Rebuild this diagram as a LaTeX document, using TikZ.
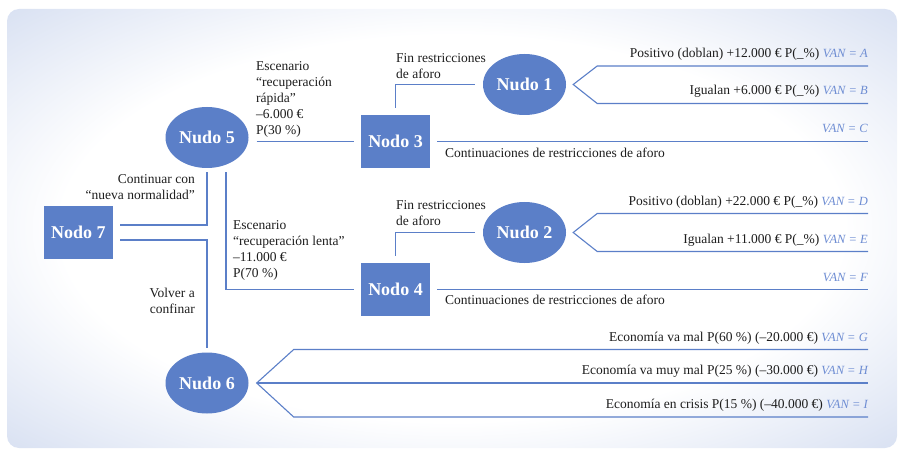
\documentclass[tikz,border=0pt]{standalone}
\usepackage{fontspec}
\setmainfont{Liberation Serif}
\usetikzlibrary{shapes.geometric,calc}

\definecolor{nudoblue}{HTML}{5B7FC8}
\definecolor{vanblue}{HTML}{6E8DD3}
\definecolor{fondoblue}{HTML}{CCD7EE}
\definecolor{texto}{HTML}{1E1E1E}

\pgfdeclareradialshading{fondo}{\pgfpoint{0bp}{0bp}}{color(0bp)=(white); color(22bp)=(white); color(40bp)=(fondoblue); color(50bp)=(fondoblue)}

\newcommand{\vanlbl}[1]{{\color{vanblue}\itshape\fontsize{12.5}{15}\selectfont #1}}

\begin{document}
\begin{tikzpicture}[x=1pt, y=-1pt,
    nudo/.style={ellipse, fill=nudoblue, minimum width=83pt, minimum height=61pt, inner sep=0pt, text=white, font=\fontsize{18}{20}\selectfont\bfseries},
    caja/.style={rectangle, fill=nudoblue, minimum width=69pt, minimum height=53pt, inner sep=0pt, text=white, font=\fontsize{18}{20}\selectfont\bfseries},
    link/.style={draw=nudoblue, line width=1.1pt},
    txt/.style={inner sep=0pt, text=texto, font=\fontsize{13.5}{16}\selectfont}]

    % Fondo
    \useasboundingbox (0,0) rectangle (899,449);
    \shade[shading=fondo, rounded corners=12pt] (7,9) rectangle (897,448);

    % Nodes
    \node[caja] at (78.5,232.5) (n7) {Nodo 7};
    \node[nudo] at (207,137.5) (n5) {Nudo 5};
    \node[nudo] at (207,383) (n6) {Nudo 6};
    \node[caja] at (395.5,141.5) (n3) {Nodo 3};
    \node[caja] at (395.5,289.5) (n4) {Nodo 4};
    \node[nudo] at (524.5,84.5) (n1) {Nudo 1};
    \node[nudo] at (524.5,232.5) (n2) {Nudo 2};

    % Ends
    \coordinate (eA) at (868,66);
    \coordinate (eB) at (868,103.5);
    \coordinate (eC) at (868,141.5);
    \coordinate (eD) at (868,213.5);
    \coordinate (eE) at (868,251.5);
    \coordinate (eF) at (868,289.5);
    \coordinate (eG) at (868,349.5);
    \coordinate (eH) at (868,383);
    \coordinate (eI) at (868,417);

    % Edges
    \draw[link] ($(n7.east)+(7,-7.5)$) -| ($(n5.south)+(0,4)$);
    \draw[link] ($(n7.east)+(7,7.5)$) -| ($(n6.north)+(0,-4)$);
    \draw[link] ($(n5.east |- n3.west)+(8,0)$) -- ($(n3.west)+(-7,0)$);
    \draw[link] ($(n5.south)+(19,4)$) |- ($(n4.west)+(-7,0)$);
    \draw[link] ($(n3.north)+(0,-7)$) |- ($(n1.west)+(-8,0)$);
    \draw[link] ($(n4.north)+(0,-7)$) |- ($(n2.west)+(-8,0)$);
    \draw[link] ($(n3.east)+(7,0)$) -- (eC);
    \draw[link] ($(n4.east)+(7,0)$) -- (eF);
    \draw[link] (eA) -- ($(n1.east)+(31,-18.5)$) -- ($(n1.east)+(7,0)$) -- ($(n1.east)+(31,19)$) -- (eB);
    \draw[link] (eD) -- ($(n2.east)+(31,-19)$) -- ($(n2.east)+(7,0)$) -- ($(n2.east)+(31,19)$) -- (eE);
    \draw[link] (eG) -- ($(n6.east)+(45,-33.5)$) -- ($(n6.east)+(8,0)$) -- ($(n6.east)+(45,34)$) -- (eI);
    \draw[link] ($(n6.east)+(8,0)$) -- (eH);

    % Labels
    \node[txt, anchor=north west, align=left] at (256,61) (l53) {Escenario\\“recuperación\\rápida”\\–6.000 €\\P(30 \%)};
    \node[txt, anchor=north west, align=left] at (233,220) (l54) {Escenario\\“recuperación lenta”\\–11.000 €\\P(70 \%)};
    \node[txt, anchor=north east, align=right] at (195,174) (l75) {Continuar con\\“nueva normalidad”};
    \node[txt, anchor=north east, align=right] at (195,288) (l76) {Volver a\\confinar};
    \node[txt, anchor=north west, align=left] at (396,53) (l31) {Fin restricciones\\de aforo};
    \node[txt, anchor=north west, align=left] at (396,200) (l42) {Fin restricciones\\de aforo};
    \node[txt, anchor=north west] at (445,148) (l3c) {Continuaciones de restricciones de aforo};
    \node[txt, anchor=north west] at (445,295) (l4f) {Continuaciones de restricciones de aforo};

    \node[txt, anchor=base east] at ([yshift=8.5pt]eA) (lA) {Positivo (doblan) +12.000 € P(\_\%) \vanlbl{VAN = A}};
    \node[txt, anchor=base east] at ([yshift=8.5pt]eB) (lB) {Igualan +6.000 € P(\_\%) \vanlbl{VAN = B}};
    \node[txt, anchor=base east] at ([yshift=8.5pt]eC) (lC) {\vanlbl{VAN = C}};
    \node[txt, anchor=base east] at ([yshift=8.5pt]eD) (lD) {Positivo (doblan) +22.000 € P(\_\%) \vanlbl{VAN = D}};
    \node[txt, anchor=base east] at ([yshift=8.5pt]eE) (lE) {Igualan +11.000 € P(\_\%) \vanlbl{VAN = E}};
    \node[txt, anchor=base east] at ([yshift=8.5pt]eF) (lF) {\vanlbl{VAN = F}};
    \node[txt, anchor=base east] at ([yshift=8.5pt]eG) (lG) {Economía va mal P(60 \%) (–20.000 €) \vanlbl{VAN = G}};
    \node[txt, anchor=base east] at ([yshift=8.5pt]eH) (lH) {Economía va muy mal P(25 \%) (–30.000 €) \vanlbl{VAN = H}};
    \node[txt, anchor=base east] at ([yshift=8.5pt]eI) (lI) {Economía en crisis P(15 \%) (–40.000 €) \vanlbl{VAN = I}};
\end{tikzpicture}
\end{document}
